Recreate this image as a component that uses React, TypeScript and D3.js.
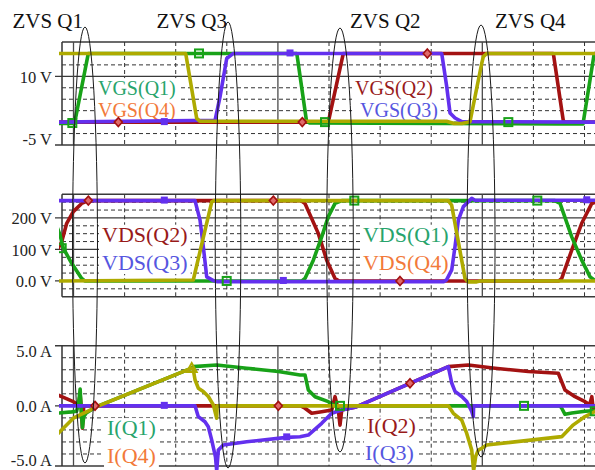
import React from "react";
import * as d3 from "d3";

type Pt = [number, number];

// time axis, in grid divisions (10 divisions = one switching period)
const timeDomain: [number, number] = [-0.225, 10.205];
const timeGrid = d3.range(0, 11);
const timeMajor = [0, 4, 8];

// ---- gate voltages (V)
const vgsQ1: Pt[] = [[-0.3, -0.3], [0.02, -0.3], [0.29, 15], [4.37, 15], [4.56, 0.2], [4.62, -0.2], [9.5, -0.4], [9.97, -0.4], [10.19, 15], [10.3, 15]];
const vgsQ2: Pt[] = [[-0.3, 0], [4.986, 0], [5.28, 15], [9.39, 15], [9.554, 2.6], [9.585, 0.3], [9.62, 0], [10.3, 0]];
const vgsQ3: Pt[] = [[-0.3, 0], [2.77, 0.4], [2.867, 5.5], [2.998, 13.9], [3.127, 15], [7.206, 15], [7.303, 7.8], [7.368, 2], [7.466, 0.9], [7.597, 0.1], [10.3, 0]];
const vgsQ4: Pt[] = [[-0.3, 15], [2.196, 15], [2.411, 0.8], [2.47, 0.2], [7.3, 0.2], [7.45, -0.3], [7.6, -0.3], [7.759, 0.1], [7.988, 12.8], [8.02, 14.3], [8.086, 15], [10.3, 15]];

// ---- drain-source voltages (V)
const vdsQ1: Pt[] = [[-0.33, 175], [-0.264, 146], [-0.2, 104], [-0.035, 56], [0.16, 8], [0.22, 0], [4.47, 0], [4.53, 8], [4.693, 66], [4.857, 140], [4.986, 204], [5.118, 246], [5.25, 255], [9.42, 255], [9.521, 246], [9.75, 140], [9.945, 66], [10.108, 13], [10.2, 2], [10.3, 0]];
const vdsQ2: Pt[] = [[-0.33, 95], [-0.231, 124], [-0.133, 183], [-0.004, 220], [0.16, 246], [0.29, 255], [4.45, 255], [4.53, 246], [4.79, 151], [4.955, 66], [5.118, 8], [5.2, 0], [9.5, 0], [9.554, 8], [9.75, 98], [9.945, 183], [10.143, 246], [10.3, 255]];
const vdsQ3: Pt[] = [[-0.3, 255], [2.378, 255], [2.476, 193], [2.54, 109], [2.607, 13], [2.736, 1], [2.802, -2], [7.25, -2], [7.303, 4], [7.401, 35], [7.466, 109], [7.531, 193], [7.629, 236], [7.793, 262], [7.857, 256], [10.3, 256]];
const vdsQ4: Pt[] = [[-0.3, 0], [2.344, 3], [2.705, 251], [2.75, 255], [7.335, 255], [7.401, 240], [7.661, 8], [7.726, -3], [7.89, -3], [7.955, 0], [10.3, 0]];

// ---- device currents (A)
const iQ1: Pt[] = [[-0.3, -0.6], [-0.035, -0.5], [0.06, -0.45], [0.1, 0.2], [0.13, 1.4], [0.15, -0.3], [0.175, -1.8], [0.2, -0.9], [0.25, -0.6], [0.454, -0.06], [2.313, 3.14], [2.344, 3.26], [2.802, 3.4], [3.39, 3.13], [4.008, 2.85], [4.432, 2.57], [4.53, 2.57], [4.595, 1.32], [4.726, 0.76], [4.986, 0.35], [5.084, 0.07], [5.182, -0.07], [5.3, 0], [9.52, 0], [9.554, -0.2], [9.618, -0.7], [9.75, -0.6], [10.01, -0.45], [10.205, -0.4], [10.3, -0.4]];
const iQ2: Pt[] = [[-0.3, 0.9], [-0.23, 0.76], [-0.004, 0.35], [0.09, 0.07], [0.13, 0.9], [0.15, 0], [0.175, -1.85], [0.2, 0], [4.45, 0], [4.53, -0.2], [4.661, -0.62], [4.857, -0.49], [5.053, -0.35], [5.118, 0.76], [5.182, -0.35], [5.215, -1.6], [5.249, -0.35], [5.509, -0.12], [7.335, 3.26], [7.726, 3.4], [8.249, 3.13], [8.9, 2.85], [9.487, 2.71], [9.618, 1.32], [9.814, 0.76], [10.01, 0.35], [10.1, 0.1], [10.143, 0.76], [10.172, -0.35], [10.205, 0], [10.3, 0]];
const iQ3: Pt[] = [[-0.3, 0], [2.378, 0], [2.442, -0.9], [2.573, -1.32], [2.638, -1.74], [2.705, -2.85], [2.778, -4.24], [2.802, -5.4], [2.834, -3.68], [2.932, -3.26], [3.39, -2.99], [4.172, -2.62], [4.432, -2.57], [4.595, -2.43], [4.857, -1.45], [5.053, -0.62], [5.249, -0.35], [5.509, -0.12], [7.335, 3.26], [7.401, 1.9], [7.466, 1.2], [7.597, 0.78], [7.695, 0.36], [7.793, -0.47], [7.824, -0.9], [7.83, 0], [10.3, 0]];
const iQ4: Pt[] = [[-0.3, -2.3], [-0.264, -2.14], [-0.004, -1.03], [0.323, -0.35], [0.454, -0.06], [2.313, 3.14], [2.344, 3.0], [2.378, 2.17], [2.442, 1.47], [2.54, 1.19], [2.638, 0.78], [2.736, 0.08], [2.802, -1.03], [2.81, 0], [7.335, 0], [7.433, -0.62], [7.597, -1.18], [7.695, -2.29], [7.793, -3.68], [7.83, -5.4], [7.87, -4.2], [7.922, -3.67], [7.988, -3.53], [8.086, -3.25], [9.554, -2.56], [9.781, -1.58], [10.01, -0.89], [10.205, -0.47], [10.3, -0.3]];

// ---- probe markers [t, value]
const mkVgsQ1: Pt[] = [[-0.023, -0.2], [2.456, 15], [4.922, 0], [8.509, 0]];
const mkVgsQ2: Pt[] = [[0.877, 0], [4.477, 0], [6.924, 15]];
const mkVgsQ3: Pt[] = [[1.777, 0], [4.237, 15]];
const mkVdsQ1: Pt[] = [[-0.231, 104], [2.998, 0], [5.495, 255], [9.076, 255]];
const mkVdsQ2: Pt[] = [[0.29, 255], [3.91, 255], [6.389, 0]];
const mkVdsQ3: Pt[] = [[1.777, 255], [4.106, 0], [10.043, 256]];
const mkIQ1: Pt[] = [[5.215, 0], [8.816, 0], [10.2, -0.45]];
const mkIQ2: Pt[] = [[0.421, 0], [4.008, 0], [6.585, 1.88]];
const mkIQ3: Pt[] = [[1.777, 0], [4.172, -2.62]];
const mkIQ4: Pt[] = [[2.313, 3.14]];

const vgsTicks = [{ v: 10, label: "10 V" }, { v: -5, label: "-5 V" }];
const vdsTicks = [{ v: 200, label: "200 V" }, { v: 100, label: "100 V" }, { v: 0, label: "0.0 V" }];
const iTicks = [{ v: 5, label: "5.0 A" }, { v: 0, label: "0.0 A" }, { v: -5, label: "-5.0 A" }];

const green = "#18a218";
const red = "#a31212";
const purple = "#6330ee";
const olive = "#aeaa00";

const labGreen = "#28a46c";
const labOrange = "#f27a3a";
const labRed = "#981a1a";
const labBlue = "#5656e0";

const serif = "Liberation Serif, DejaVu Serif, Times New Roman, serif";

const timesW: Record<string, number> = { V: 0.722, G: 0.722, D: 0.722, S: 0.556, "(": 0.333, ")": 0.333, Q: 0.722, I: 0.333 };
const textW = (s: string, fs: number) => d3.sum(s.split(""), (c) => timesW[c] ?? 0.5) * fs;

const panels = [
  {
    top: 42, bottom: 145, clipBottom: 149, domain: [-5, 17.5], step: 2.5, ticks: vgsTicks, legendSize: 20,
    series: [
      { data: vgsQ2, color: red }, { data: vgsQ1, color: green },
      { data: vgsQ3, color: purple }, { data: vgsQ4, color: olive },
    ],
    markers: [
      { data: mkVgsQ1, kind: "square", color: green },
      { data: mkVgsQ2, kind: "diamond", color: red },
      { data: mkVgsQ3, kind: "dot", color: purple },
    ],
    legends: [
      { t: 0.479, lines: [{ text: "VGS(Q1)", color: labGreen, v: 5.9, dt: 0 }, { text: "VGS(Q4)", color: labOrange, v: 1.04, dt: 0 }] },
      { t: 5.509, lines: [{ text: "VGS(Q2)", color: labRed, v: 5.9, dt: 0 }, { text: "VGS(Q3)", color: labBlue, v: 1.04, dt: 0.098 }] },
    ],
  },
  {
    top: 194.3, bottom: 296.7, clipBottom: 300, domain: [-50, 275], step: 25, ticks: vdsTicks, legendSize: 22,
    series: [
      { data: vdsQ2, color: red }, { data: vdsQ1, color: green },
      { data: vdsQ3, color: purple }, { data: vdsQ4, color: olive },
    ],
    markers: [
      { data: mkVdsQ1, kind: "square", color: green },
      { data: mkVdsQ2, kind: "diamond", color: red },
      { data: mkVdsQ3, kind: "dot", color: purple },
    ],
    legends: [
      { t: 0.558, lines: [{ text: "VDS(Q2)", color: labRed, v: 124.5, dt: 0 }, { text: "VDS(Q3)", color: labBlue, v: 34.7, dt: 0 }] },
      { t: 5.665, lines: [{ text: "VDS(Q1)", color: labGreen, v: 124.5, dt: 0 }, { text: "VDS(Q4)", color: labOrange, v: 34.7, dt: 0 }] },
    ],
  },
  {
    top: 345.7, bottom: 466, clipBottom: 470, domain: [-5, 5], step: 1, ticks: iTicks, legendSize: 22,
    series: [
      { data: iQ2, color: red }, { data: iQ1, color: green },
      { data: iQ3, color: purple }, { data: iQ4, color: olive },
    ],
    markers: [
      { data: mkIQ1, kind: "square", color: green },
      { data: mkIQ2, kind: "diamond", color: red },
      { data: mkIQ3, kind: "dot", color: purple },
      { data: mkIQ4, kind: "triangle", color: olive },
    ],
    legends: [
      { t: 0.656, lines: [{ text: "I(Q1)", color: labGreen, v: -2.43, dt: 0 }, { text: "I(Q4)", color: labOrange, v: -4.79, dt: 0 }] },
      { t: 5.744, lines: [{ text: "I(Q2)", color: labRed, v: -2.29, dt: 0 }, { text: "I(Q3)", color: labBlue, v: -4.51, dt: -0.039 }] },
    ],
  },
];

// ZVS annotations: ellipse centre time, vertical extent in px, title placement
const zvs = [
  { label: "ZVS Q1", t: 0.225, top: 27, bottom: 463, rx: 12.5, anchor: "end", dx: -2 },
  { label: "ZVS Q3", t: 3.024, top: 22, bottom: 468, rx: 12.8, anchor: "end", dx: -1 },
  { label: "ZVS Q2", t: 5.215, top: 28, bottom: 452, rx: 13.3, anchor: "start", dx: 10 },
  { label: "ZVS Q4", t: 7.975, top: 25, bottom: 457, rx: 14, anchor: "start", dx: 14 },
];

function Marker({ kind, cx, cy, color }: { kind: string; cx: number; cy: number; color: string }) {
  if (kind === "square")
    return <rect x={cx - 4} y={cy - 4} width={8} height={8} fill="none" stroke={color} strokeWidth={2} />;
  if (kind === "diamond")
    return <path d={`M${cx},${cy - 4.5}L${cx + 4},${cy}L${cx},${cy + 4.5}L${cx - 4},${cy}Z`} fill="#e06a6a" stroke={color} strokeWidth={1.6} />;
  if (kind === "triangle")
    return <path d={`M${cx},${cy - 5}L${cx + 5},${cy + 4}L${cx - 5},${cy + 4}Z`} fill="none" stroke={color} strokeWidth={2} />;
  return <rect x={cx - 3.5} y={cy - 4} width={7} height={7} fill={color} />;
}

function Panel({ p, x, id }: { p: any; x: d3.ScaleLinear<number, number>; id: number }) {
  const y = d3.scaleLinear().domain(p.domain).range([p.bottom, p.top]);
  const line = d3.line<Pt>().x((d) => x(d[0])).y((d) => y(d[1]));
  const hVals = d3.range(p.domain[0], p.domain[1] + p.step / 2, p.step);
  const isTick = (v: number) => p.ticks.some((t: any) => Math.abs(t.v - v) < 1e-6);
  const clipId = `clip${id}`;
  const fs = p.legendSize;

  return (
    <g>
      <defs>
        <clipPath id={clipId}>
          <rect x={59} y={p.top - 3} width={540} height={p.clipBottom - p.top + 3} />
        </clipPath>
      </defs>
      {hVals.map((v: number, i: number) => {
        const edge = i === 0 || i === hVals.length - 1;
        const tick = isTick(v);
        if (edge || tick)
          return <line key={`h${i}`} x1={tick ? 55 : 62} x2={595} y1={y(v)} y2={y(v)} stroke="#3a3a3a" strokeWidth={edge ? 1.5 : 1.2} />;
        return <line key={`h${i}`} x1={62} x2={595} y1={y(v)} y2={y(v)} stroke="#333" strokeWidth={1} strokeDasharray="4 3" />;
      })}
      {timeGrid.map((t) => (
        <line key={`v${t}`} x1={x(t)} x2={x(t)} y1={p.top} y2={p.bottom}
          stroke={timeMajor.includes(t) ? "#4a4a4a" : "#333"}
          strokeWidth={timeMajor.includes(t) ? 1.3 : 1}
          strokeDasharray={timeMajor.includes(t) ? undefined : "4 3"} />
      ))}
      <line x1={62} x2={62} y1={p.top} y2={p.bottom} stroke="#333" strokeWidth={1.5} />
      {p.ticks.map((t: any) => {
        const yy = Math.max(p.top + 6, Math.min(p.bottom - 6, y(t.v) + 1));
        return (
          <text key={t.label} x={52} y={yy} textAnchor="end" dominantBaseline="central"
            style={{ fontFamily: serif, fontSize: 16.5 }} fill="#222">
            {t.label}
          </text>
        );
      })}
      {p.legends.map((g: any, gi: number) => {
        const x0 = x(g.t);
        const w = d3.max(g.lines, (l: any) => textW(l.text, fs) + x(g.t + l.dt) - x0) as number;
        const yTop = y(g.lines[0].v) - 17;
        const yBot = y(g.lines[1].v) + 4;
        return (
          <g key={`lg${gi}`}>
            <rect x={x0 - 3} y={yTop} width={w + 6} height={yBot - yTop} fill="#fff" />
            {g.lines.map((l: any) => (
              <text key={l.text} x={x(g.t + l.dt)} y={y(l.v)} style={{ fontFamily: serif, fontSize: fs }} fill={l.color}>
                {l.text}
              </text>
            ))}
          </g>
        );
      })}
      <g clipPath={`url(#${clipId})`}>
        {p.series.map((s: any, si: number) => (
          <path key={`s${si}`} d={line(s.data) as string} fill="none" stroke={s.color} strokeWidth={3.6}
            strokeLinejoin="round" strokeLinecap="round" />
        ))}
        {p.markers.map((m: any, mi: number) =>
          m.data.map((d: Pt, di: number) => (
            <Marker key={`m${mi}-${di}`} kind={m.kind} cx={x(d[0])} cy={y(d[1])} color={m.color} />
          ))
        )}
      </g>
    </g>
  );
}

export default function App() {
  const x = d3.scaleLinear().domain(timeDomain).range([62, 595]);
  return (
    <svg width={595} height={470} style={{ position: "absolute", left: 0, top: 0, background: "#fff", fontFamily: serif }}>
      <rect width={595} height={470} fill="#fff" />
      {panels.map((p, i) => (
        <Panel key={i} p={p} x={x} id={i} />
      ))}
      {zvs.map((z) => {
        const cx = x(z.t);
        return (
          <g key={z.label}>
            <ellipse cx={cx} cy={(z.top + z.bottom) / 2} rx={z.rx} ry={(z.bottom - z.top) / 2}
              fill="none" stroke="#1a1a1a" strokeWidth={1} />
            <text x={cx + z.dx} y={28} textAnchor={z.anchor} style={{ fontFamily: serif, fontSize: 21 }} fill="#111">
              {z.label}
            </text>
          </g>
        );
      })}
    </svg>
  );
}
